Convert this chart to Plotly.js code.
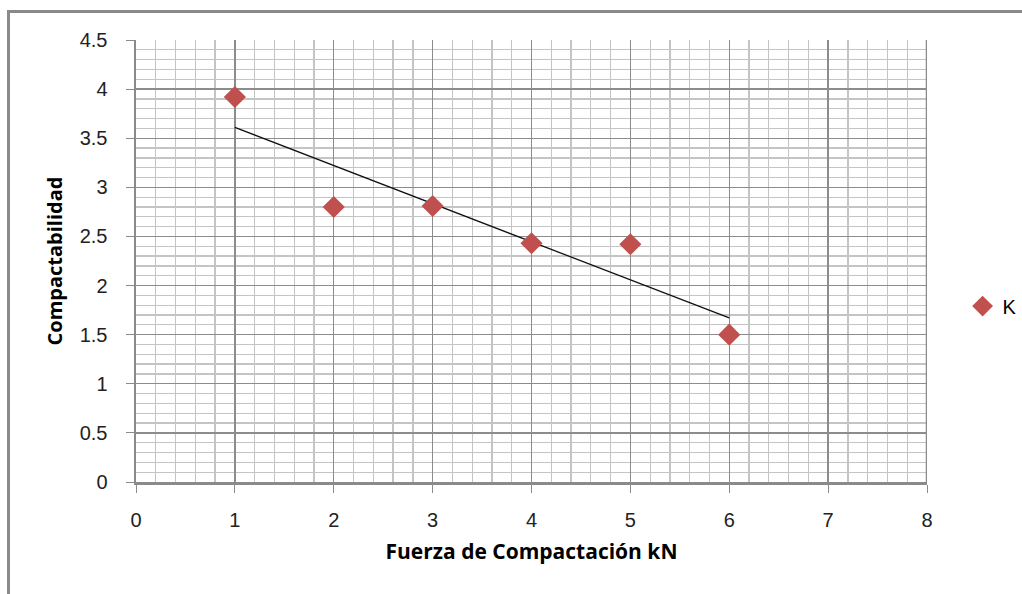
<!DOCTYPE html>
<html>
<head>
<meta charset="utf-8">
<script src="https://cdn.plot.ly/plotly-3.0.1.min.js"></script>
<style>
  html, body { margin: 0; padding: 0; background: #fff; }
  #wrap { position: relative; width: 1022px; height: 594px; overflow: hidden; }
  #chart { position: absolute; left: 0; top: 0; width: 1022px; height: 594px; }
  #frame { position: absolute; left: 7px; top: 10px; width: 1100px; height: 700px;
           border-top: 3px solid #8a8a8a; border-left: 3px solid #8a8a8a; pointer-events: none; }
</style>
</head>
<body>
<div id="wrap">
  <div id="chart"></div>
  <div id="frame"></div>
</div>
<script>
// Data
const fuerza = [1, 2, 3, 4, 5, 6];
const compactabilidad = [3.92, 2.80, 2.81, 2.43, 2.42, 1.50];
// Linear trend line endpoints (as drawn in the reference)
const trendX = [1, 6];
const trendY = [3.61, 1.67];
const seriesName = 'K';
const xTitle = 'Fuerza de Compactación kN';
const yTitle = 'Compactabilidad';

const tickFont = { family: 'Liberation Sans, Arial, sans-serif', size: 20, color: '#222' };
const xTitleFont = { family: 'Open Sans, Liberation Sans, sans-serif', size: 21, color: '#000', weight: 'bold' };
const yTitleFont = { family: 'Open Sans, Liberation Sans, sans-serif', size: 20, color: '#000', weight: 'bold' };

const data = [
  {
    x: trendX, y: trendY, mode: 'lines', type: 'scatter',
    line: { color: '#111', width: 1.3 }, showlegend: false, hoverinfo: 'skip'
  },
  {
    x: fuerza, y: compactabilidad, mode: 'markers', type: 'scatter', name: seriesName,
    marker: { symbol: 'diamond', size: 17, color: '#C0504D', line: { width: 0 } }
  }
];

const layout = {
  width: 1022, height: 594,
  margin: { l: 136, r: 95, t: 40, b: 112, autoexpand: false },
  paper_bgcolor: '#ffffff', plot_bgcolor: '#ffffff',
  showlegend: true,
  legend: { x: 1.045, y: 0.398, xanchor: 'left', yanchor: 'middle',
            font: { family: 'Liberation Sans, Arial, sans-serif', size: 20, color: '#000' },
            itemwidth: 30, bgcolor: 'rgba(0,0,0,0)' },
  xaxis: {
    range: [0, 8], dtick: 1, tick0: 0, autorange: false,
    showgrid: true, gridcolor: '#8c8c8c', gridwidth: 1.3,
    minor: { dtick: 0.2, showgrid: true, gridcolor: '#c4c4c4', gridwidth: 1.3 },
    showline: true, linecolor: '#8a8a8a', linewidth: 2.5,
    ticks: 'outside', ticklen: 8, tickcolor: '#8a8a8a', tickwidth: 1,
    tickfont: tickFont, ticklabelstandoff: 10, zeroline: false,
    title: { text: xTitle, font: xTitleFont, standoff: 15 }
  },
  yaxis: {
    range: [0, 4.5], dtick: 0.5, tick0: 0, autorange: false,
    showgrid: true, gridcolor: '#8c8c8c', gridwidth: 1.3,
    minor: { dtick: 0.1, showgrid: true, gridcolor: '#c4c4c4', gridwidth: 1.3 },
    showline: true, linecolor: '#8a8a8a', linewidth: 2.5,
    ticks: 'outside', ticklen: 8, tickcolor: '#8a8a8a', tickwidth: 1,
    tickfont: tickFont, ticklabelstandoff: 14, zeroline: false,
    title: { text: yTitle, font: yTitleFont, standoff: 12 }
  },
  shapes: [
    { type: 'line', xref: 'x', yref: 'paper', x0: 8, x1: 8, y0: 0, y1: 1,
      line: { color: '#8a8a8a', width: 2.5 } }
  ]
};

Plotly.newPlot('chart', data, layout, { displayModeBar: false, staticPlot: true });
</script>
</body>
</html>
